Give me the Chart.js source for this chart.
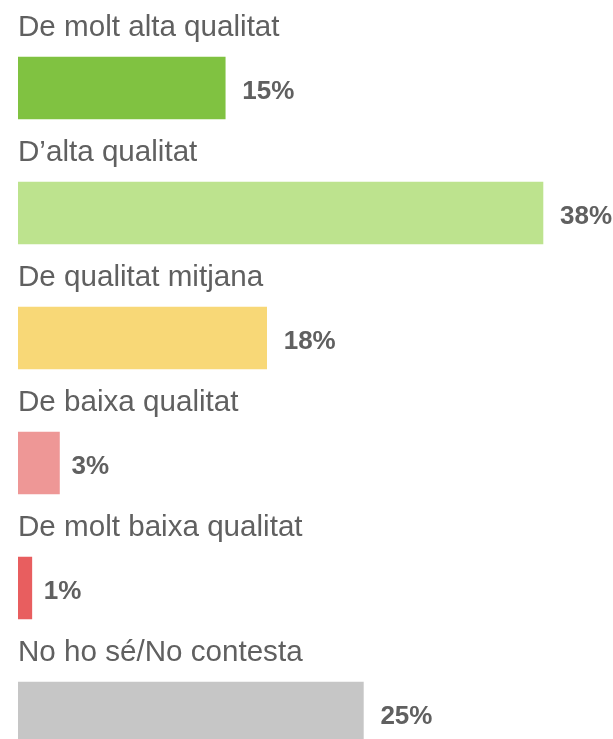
<!DOCTYPE html>
<html>
<head>
<meta charset="utf-8">
<script src="https://cdn.jsdelivr.net/npm/chart.js@4"></script>
<style>
  html, body { margin: 0; padding: 0; background: #fff; overflow: hidden; }
  #wrap { width: 613px; height: 776px; position: relative; }
</style>
</head>
<body>
<div id="wrap"><canvas id="chart"></canvas></div>
<script>
const categories = [
  "De molt alta qualitat",
  "D\u2019alta qualitat",
  "De qualitat mitjana",
  "De baixa qualitat",
  "De molt baixa qualitat",
  "No ho sé/No contesta"
];
const values = [15, 38, 18, 3, 1, 25];
const barColors = ["#80c241", "#bde38e", "#f8d877", "#ee9796", "#e85e5f", "#c6c6c6"];

const textColor = "#606060";

// category name above each bar, percentage to its right
const barLabels = {
  id: "barLabels",
  afterDatasetsDraw(chart) {
    const ctx = chart.ctx;
    const area = chart.chartArea;
    const bars = chart.getDatasetMeta(0).data;
    ctx.save();
    ctx.fillStyle = textColor;
    ctx.textBaseline = "alphabetic";
    ctx.textAlign = "left";
    bars.forEach((bar, i) => {
      ctx.font = "29.6px 'Liberation Sans', Arial, sans-serif";
      ctx.fillText(categories[i], area.left, bar.y - 52);
      // short bars keep their label a little closer
      const gap = values[i] < 5 ? 12 : 17;
      ctx.font = "bold 26px 'Liberation Sans', Arial, sans-serif";
      ctx.fillText(values[i] + "%", bar.x + gap, bar.y + 11);
    });
    ctx.restore();
  }
};

new Chart(document.getElementById("chart"), {
  type: "bar",
  data: {
    labels: categories,
    datasets: [{
      data: values,
      backgroundColor: barColors,
      borderWidth: 0,
      barThickness: 62
    }]
  },
  options: {
    indexAxis: "y",
    responsive: true,
    maintainAspectRatio: false,
    animation: false,
    layout: { padding: { left: 18, right: 42.4, top: 25.5, bottom: 0.5 } },
    scales: {
      x: { display: false, min: 0, max: 40 },
      y: { display: false }
    },
    plugins: {
      legend: { display: false },
      tooltip: { enabled: false }
    }
  },
  plugins: [barLabels]
});
</script>
</body>
</html>
